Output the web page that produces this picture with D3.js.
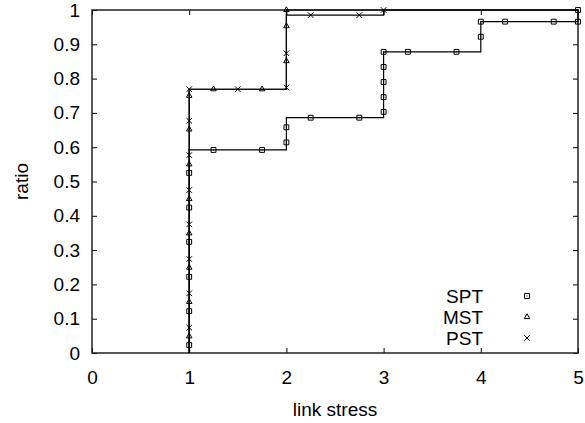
<!DOCTYPE html>
<html>
<head>
<meta charset="utf-8">
<script src="https://cdn.jsdelivr.net/npm/d3@7"></script>
<style>
  body { margin: 0; background: #fff; }
  text { font-family: "Liberation Sans", Arial, sans-serif; fill: #000; }
</style>
</head>
<body>
<div id="chart"></div>
<script>
// data
var seriesNames = ["SPT", "MST", "PST"];
var xTicks = [0, 1, 2, 3, 4, 5];
var yTicks = [0, 0.1, 0.2, 0.3, 0.4, 0.5, 0.6, 0.7, 0.8, 0.9, 1];

// step outlines (x, ratio)
var sptSteps = [[1, 0], [1, 0.592], [2, 0.592], [2, 0.686], [3, 0.686], [3, 0.878], [4, 0.878], [4, 0.966], [5, 0.966], [5, 1]];
var mstSteps = [[1, 0], [1, 0.769], [2, 0.769], [2, 1], [5, 1]];
var pstSteps = [[1, 0], [1, 0.769], [2, 0.769], [2, 0.985], [3, 0.985], [3, 1], [5, 1]];

// markers (x, ratio)
var sptPoints = [[1, 0.023], [1, 0.122], [1, 0.222], [1, 0.324], [1, 0.424], [1, 0.525],
  [1.25, 0.592], [1.75, 0.592], [2, 0.614], [2, 0.658], [2.25, 0.686], [2.75, 0.686],
  [3, 0.703], [3, 0.746], [3, 0.790], [3, 0.834], [3, 0.878], [3.25, 0.878], [3.75, 0.878],
  [4, 0.922], [4, 0.966], [4.25, 0.966], [4.75, 0.966], [5, 0.966], [5, 1]];
var mstPoints = [[1, 0.049], [1, 0.149], [1, 0.249], [1, 0.349], [1, 0.449], [1, 0.550],
  [1, 0.652], [1, 0.750], [1.25, 0.769], [1.75, 0.769], [2, 0.851], [2, 0.953], [2, 1]];
var pstPoints = [[1, 0.074], [1, 0.174], [1, 0.274], [1, 0.375], [1, 0.475], [1, 0.577],
  [1, 0.677], [1, 0.769], [1.5, 0.769], [2, 0.774], [2, 0.874], [2.25, 0.985], [2.75, 0.985], [3, 1]];

var svgWidth = 585;
var svgHeight = 423;
var margin = {top: 10, right: 7, bottom: 70, left: 92};
var width = svgWidth - margin.left - margin.right;
var height = svgHeight - margin.top - margin.bottom;
var fontSize = "19px";

var svg = d3.select("#chart")
  .append("svg")
  .attr("width", svgWidth)
  .attr("height", svgHeight);

var chartGroup = svg.append("g")
  .attr("transform", "translate(" + margin.left + "," + margin.top + ")");

var xScale = d3.scaleLinear().domain([0, 5]).range([0, width]);
var yScale = d3.scaleLinear().domain([0, 1]).range([height, 0]);

// axes, ticks pointing inward, mirrored on top and right
function styleAxis(g) {
  g.select(".domain").remove();
  g.selectAll("line").attr("stroke", "#000").attr("stroke-width", 1);
  g.selectAll("text").style("font-size", fontSize).attr("fill", "#000");
}

chartGroup.append("g")
  .attr("transform", "translate(0," + height + ")")
  .call(d3.axisBottom(xScale).tickValues(xTicks).tickFormat(d3.format("d")).tickSizeInner(-5).tickSizeOuter(0).tickPadding(14))
  .call(styleAxis)
  .selectAll("text").attr("dy", "0.9em");

chartGroup.append("g")
  .call(d3.axisLeft(yScale).tickValues(yTicks).tickFormat(d => d3.format("")(+d.toFixed(1))).tickSizeInner(-5).tickSizeOuter(0).tickPadding(12))
  .call(styleAxis);

chartGroup.append("g")
  .call(d3.axisTop(xScale).tickValues(xTicks).tickFormat("").tickSizeInner(-5).tickSizeOuter(0))
  .call(styleAxis);

chartGroup.append("g")
  .attr("transform", "translate(" + width + ",0)")
  .call(d3.axisRight(yScale).tickValues(yTicks).tickFormat("").tickSizeInner(-5).tickSizeOuter(0))
  .call(styleAxis);

// plot border
chartGroup.append("rect")
  .attr("x", 0)
  .attr("y", 0)
  .attr("width", width)
  .attr("height", height)
  .attr("fill", "none")
  .attr("stroke", "#222")
  .attr("stroke-width", 1.5);

// step lines
var line = d3.line()
  .x(d => xScale(d[0]))
  .y(d => yScale(d[1]));

[sptSteps, mstSteps, pstSteps].forEach(function(steps) {
  chartGroup.append("path")
    .datum(steps)
    .attr("d", line)
    .attr("fill", "none")
    .attr("stroke", "#000")
    .attr("stroke-width", 1.2);
});

// marker shapes
var symbols = [
  d3.symbol().type(d3.symbolSquare2).size(30),
  d3.symbol().type(d3.symbolTriangle2).size(22),
  d3.symbol().type(d3.symbolTimes).size(22)
];

function drawMarker(g, i, px, py) {
  g.append("path")
    .attr("transform", "translate(" + px + "," + py + ")")
    .attr("d", symbols[i]())
    .attr("fill", "none")
    .attr("stroke", "#000")
    .attr("stroke-width", 1);
  if (i === 0) {
    g.append("rect")
      .attr("x", px - 0.5)
      .attr("y", py - 0.5)
      .attr("width", 1)
      .attr("height", 1)
      .attr("fill", "#000");
  }
}

[sptPoints, mstPoints, pstPoints].forEach(function(points, i) {
  var g = chartGroup.append("g");
  points.forEach(function(d) {
    drawMarker(g, i, xScale(d[0]), yScale(d[1]));
  });
});

// legend
var legend = svg.append("g");
seriesNames.forEach(function(name, i) {
  var ly = 296 + i * 21;
  legend.append("text")
    .attr("x", 483)
    .attr("y", ly)
    .attr("dy", "0.35em")
    .attr("text-anchor", "end")
    .style("font-size", fontSize)
    .text(name);
  drawMarker(legend, i, 527, ly);
});

// axis labels
svg.append("text")
  .attr("x", margin.left + width / 2)
  .attr("y", 409)
  .attr("dy", "0.35em")
  .attr("text-anchor", "middle")
  .style("font-size", fontSize)
  .text("link stress");

svg.append("text")
  .attr("transform", "translate(21," + (margin.top + height / 2) + ") rotate(-90)")
  .attr("dy", "0.35em")
  .attr("text-anchor", "middle")
  .style("font-size", fontSize)
  .text("ratio");
</script>
</body>
</html>
